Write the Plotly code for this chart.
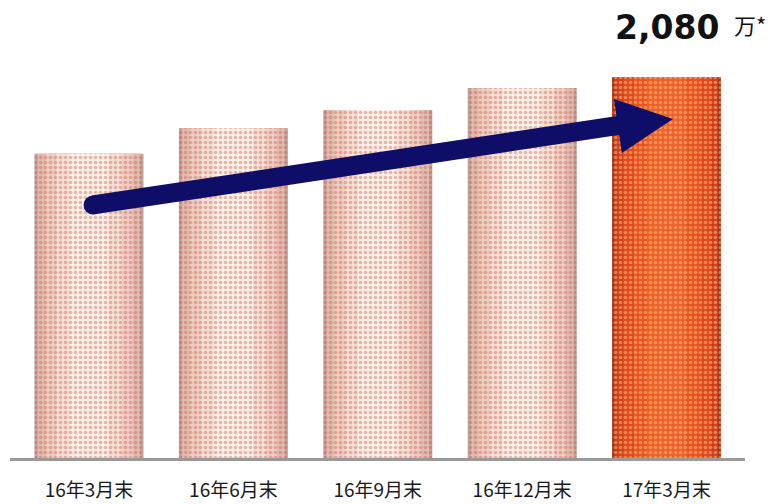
import plotly.graph_objects as go

# Members at each quarter end (10k people)
periods = ["16年3月末", "16年6月末", "16年9月末", "16年12月末", "17年3月末"]
members = [1660, 1800, 1900, 2020, 2080]
unit_label = "万*"

positions = list(range(len(periods)))
highlight = len(periods) - 1

# Cylinder shading: stacked bars of shrinking width, lighter toward the centre
bar_width = 0.755
layers = [
    (1.00, "#c2a59d", "#ac3418"),
    (0.94, "#e2bbaf", "#cf3f1a"),
    (0.80, "#efcdc2", "#e0481d"),
    (0.60, "#f6dfd5", "#e85322"),
    (0.36, "#fbefe7", "#ee6029"),
]

fig = go.Figure()
for frac, pale, hot in layers:
    colors = [hot if i == highlight else pale for i in positions]
    fig.add_trace(go.Bar(
        x=positions,
        y=members,
        width=bar_width * frac,
        marker=dict(color=colors, line=dict(width=0)),
        hoverinfo="skip",
        showlegend=False,
    ))

# Dotted texture laid over the full width of each bar
fig.add_trace(go.Bar(
    x=positions,
    y=members,
    width=bar_width,
    marker=dict(
        color="rgba(0,0,0,0)",
        line=dict(width=0),
        pattern=dict(shape=".", size=5, solidity=0.4,
                     fgcolor=["rgba(255,184,120,0.55)" if i == highlight
                              else "rgba(194,88,72,0.38)" for i in positions],
                     bgcolor="rgba(0,0,0,0)",
                     fgopacity=1, fillmode="replace"),
    ),
    hoverinfo="skip",
    showlegend=False,
))

# Growth arrow (category index, value)
navy = "#0e0e68"
arrow_start = (0.028, 1381)
shaft_end = (3.69, 1818)
head = [(3.636, 1960), (4.044, 1851), (3.69, 1665)]

shapes = [
    # baseline
    dict(type="line", xref="x", yref="y", x0=-0.547, x1=4.543, y0=-8, y1=-8,
         line=dict(color="#9a9a9a", width=3)),
    # shaft
    dict(type="line", xref="x", yref="y",
         x0=arrow_start[0], y0=arrow_start[1], x1=shaft_end[0], y1=shaft_end[1],
         line=dict(color=navy, width=19)),
    # rounded tail
    dict(type="circle", xref="x", yref="y", xsizemode="pixel", ysizemode="pixel",
         xanchor=arrow_start[0], yanchor=arrow_start[1],
         x0=-9.5, x1=9.5, y0=-9.5, y1=9.5,
         fillcolor=navy, line=dict(width=0)),
    # head
    dict(type="path", xref="x", yref="y",
         path="M {} {} L {} {} L {} {} Z".format(*head[0], *head[1], *head[2]),
         fillcolor=navy, line=dict(width=0)),
]

annotations = [
    dict(x=highlight, y=members[highlight], xref="x", yref="y",
         text="<b>{:,}</b>".format(members[highlight]),
         showarrow=False, xanchor="center", yanchor="middle", yshift=49,
         font=dict(family="DejaVu Sans", size=33, color="#111111")),
    dict(x=highlight, y=members[highlight], xref="x", yref="y",
         text=unit_label, showarrow=False, xanchor="left", yanchor="middle",
         xshift=65, yshift=53,
         font=dict(family="Noto Sans CJK JP", size=22, color="#111111")),
]

fig.update_layout(
    width=777, height=504,
    margin=dict(l=8, r=30, t=0, b=38),
    barmode="overlay",
    plot_bgcolor="white",
    paper_bgcolor="white",
    shapes=shapes,
    annotations=annotations,
    hovermode=False,
    xaxis=dict(
        range=[-0.561, 4.557],
        tickvals=positions, ticktext=periods,
        showgrid=False, zeroline=False, showline=False,
        ticks="", ticklabelstandoff=11, automargin=False,
        tickfont=dict(family="Noto Sans CJK JP", size=19, color="#1a1a1a"),
    ),
    yaxis=dict(range=[-44, 2500], visible=False, showgrid=False,
               zeroline=False, automargin=False),
)

fig.write_html("out.html")
